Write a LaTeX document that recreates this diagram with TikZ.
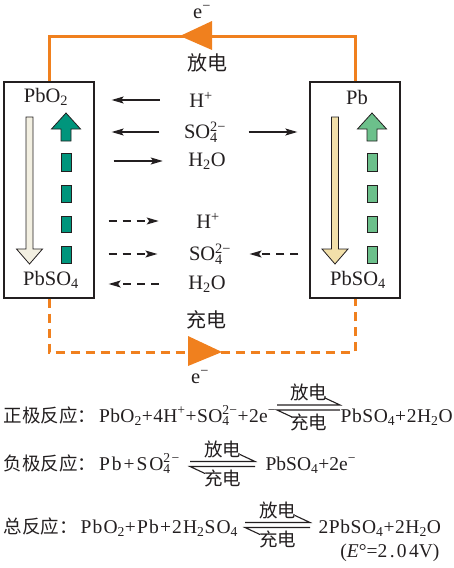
\documentclass[tikz,border=0pt]{standalone}
\usepackage{fontspec}
\setmainfont{Liberation Serif}
\newfontfamily\cjk{Noto Sans CJK SC}
\usetikzlibrary{arrows.meta, positioning, calc}
\definecolor{corange}{HTML}{F0801E}
\definecolor{cink}{HTML}{231F20}
\definecolor{cteal}{HTML}{00957C}
\definecolor{cgreen}{HTML}{6CC08B}
\definecolor{ccreamL}{HTML}{F3F0E2}
\definecolor{ccreamR}{HTML}{F2E0AA}
\tikzset{
  every picture/.style={x=1pt, y=-1pt, line width=1.2pt},
  txt/.style={font=\fontsize{20.5}{22}\selectfont, text=cink, inner sep=1pt},
  eqtxt/.style={txt, font=\fontsize{19.5}{22}\selectfont},
  cn/.style={font=\fontsize{18.5}{22}\selectfont\cjk, text=cink, inner sep=1pt},
  cnbig/.style={cn, font=\fontsize{20}{22}\selectfont\cjk},
  electrode/.style={draw=cink, line width=1.3pt, minimum width=90pt, minimum height=216pt},
  ion/.style={-{Stealth[length=12pt, width=7pt, inset=2.5pt]}, draw=cink, line width=1.2pt},
  ionback/.style={ion, dash pattern=on 8pt off 6pt},
  wire/.style={draw=corange, line width=3pt},
  chargewire/.style={wire, dash pattern=on 9pt off 6pt},
  wiretip/.style={fill=corange},
  harp/.style={draw=cink, line width=1.1pt},
  block/.style={draw=cink, line width=0.8pt},
}
\newcommand{\ionss}[2]{\rlap{\textsubscript{#2}}\textsuperscript{#1}}
\newcommand{\cjkpart}[1]{{\cjk\fontsize{18.5}{22}\selectfont #1}\hspace{3pt}}
\newcommand{\spaced}[2]{{\addfontfeature{LetterSpace=#1}#2}}
% cream arrow: x centre, colour
\newcommand{\downarr}[2]{%
  \filldraw[block, fill=#2] (#1-3.5,117) -- (#1+3.5,117) -- (#1+3.5,249) -- (#1+13,249)
    -- (#1,264) -- (#1-13,249) -- (#1-3.5,249) -- cycle;}
% dashed up arrow: x centre, colour
\newcommand{\uparr}[2]{%
  \filldraw[block, fill=#2] (#1,113) -- (#1+14.5,129) -- (#1+5,129) -- (#1+5,141)
    -- (#1-5,141) -- (#1-5,129) -- (#1-14.5,129) -- cycle;
  \foreach \a/\b in {153/171, 185/202, 216/232, 246/263}
    \filldraw[block, fill=#2] (#1-5,\a) rectangle (#1+5,\b);}
% reversible harpoons: name, left end, length
\newcommand{\revarr}[3]{%
  \draw[harp] (#2) ++(0,-2.5) coordinate (#1t) -- ++(#3,0) -- ++(-15,-7);
  \draw[harp] (#2) ++(#3,2.5) -- ++(-#3,0) coordinate (#1b) -- ++(15,7);
  \node[cn, above=0pt] (#1up) at ($(#1t)+(#3/2,-2)$) {放电};
  \node[cn, below=0pt] (#1dn) at ($(#1b)+(#3/2,2)$) {充电};}

\begin{document}
\begin{tikzpicture}
  \useasboundingbox (0,0) rectangle (453,568);
  % electrodes
  \node[electrode] (pos) at (49,190) {};
  \node[electrode] (neg) at (355,190) {};
  \downarr{29.5}{ccreamL}
  \uparr{66}{cteal}
  \downarr{335}{ccreamR}
  \uparr{372}{cgreen}
  \node[txt] (pbo2) at (46,97) {PbO\textsubscript{2}};
  \node[txt] (pbsoL) at (51,280) {PbSO\textsubscript{4}};
  \node[txt] (pb) at (357,97) {Pb};
  \node[txt] (pbsoR) at (358,280) {PbSO\textsubscript{4}};

  % external circuit
  \coordinate (wireT) at (0,36);
  \coordinate (wireB) at (0,352);
  \draw[wire] (neg.north) |- (pos.north |- wireT) -- (pos.north);
  \fill[wiretip] (180,36) -- (212,21) -- (212,50) -- cycle;
  \node[txt] (eTop) at (202,12) {e\textsuperscript{−}};
  \node[cnbig] (dis) at (207,63) {放电};
  \draw[chargewire] (pos.south) |- (neg.south |- wireB) -- (neg.south);
  \fill[wiretip] (222,352) -- (188,336) -- (188,366) -- cycle;
  \node[cnbig] (chg) at (206,320) {充电};
  \node[txt] (eBot) at (200,377) {e\textsuperscript{−}};

  % ions, discharge
  \node[txt] (hA) at (201,100) {H\textsuperscript{+}};
  \node[txt] (sA) at (205,132) {SO\ionss{2−}{4}};
  \node[txt] (wA) at (207,161) {H\textsubscript{2}O};
  \draw[ion, shorten <=28pt, shorten >=17pt] (hA.west) -- (hA.west -| pos.east);
  \draw[ion, shorten <=23pt, shorten >=17pt] (sA.west) -- (sA.west -| pos.east);
  \draw[ion, shorten <=21pt, shorten >=12pt] (sA.east) -- (sA.east -| neg.west);
  \draw[ion, shorten <=19pt, shorten >=24pt] (wA.west -| pos.east) -- (wA.west);
  % ions, charge
  \node[txt] (hB) at (208,221) {H\textsuperscript{+}};
  \node[txt] (sB) at (210,254) {SO\ionss{2−}{4}};
  \node[txt] (wB) at (207,284) {H\textsubscript{2}O};
  \draw[ionback, shorten <=14pt, shorten >=36pt] (hB.west -| pos.east) -- (hB.west);
  \draw[ionback, shorten <=14pt, shorten >=30pt] (sB.west -| pos.east) -- (sB.west);
  \draw[ionback, shorten <=11pt, shorten >=17pt] (sB.east -| neg.west) -- (sB.east);
  \draw[ionback, shorten <=28pt, shorten >=14pt] (wB.west) -- (wB.west -| pos.east);

  % half reactions
  \node[eqtxt, anchor=base west] (r1l) at (2,422)
    {\cjkpart{正极反应：}\spaced{2}{PbO\textsubscript{2}+4H\textsuperscript{+}+SO\ionss{2−}{4}+2e\textsuperscript{−}}};
  \revarr{a1}{277,407.5}{63}
  \node[eqtxt, anchor=base west] (r1r) at (339,422) {\spaced{3}{PbSO\textsubscript{4}+2H\textsubscript{2}O}};

  \node[eqtxt, anchor=base west] (r2l) at (2,470)
    {\cjkpart{负极反应：}\spaced{10}{Pb+SO\ionss{2−}{4}}};
  \revarr{a2}{190,464}{65}
  \node[eqtxt, anchor=base west] (r2r) at (264,470) {PbSO\textsubscript{4}+2e\textsuperscript{−}};

  \node[eqtxt, anchor=base west] (r3l) at (2,533)
    {\cjkpart{总反应：}\spaced{6}{PbO\textsubscript{2}+Pb+2H\textsubscript{2}SO\textsubscript{4}}};
  \revarr{a3}{245,525}{65}
  \node[eqtxt, anchor=base west] (r3r) at (317,533) {\spaced{3}{2PbSO\textsubscript{4}+2H\textsubscript{2}O}};
  \node[eqtxt, anchor=east] (emf) at (441,553)
    {(\textit{E}°=\spaced{12}{2.04}V)};
\end{tikzpicture}
\end{document}
